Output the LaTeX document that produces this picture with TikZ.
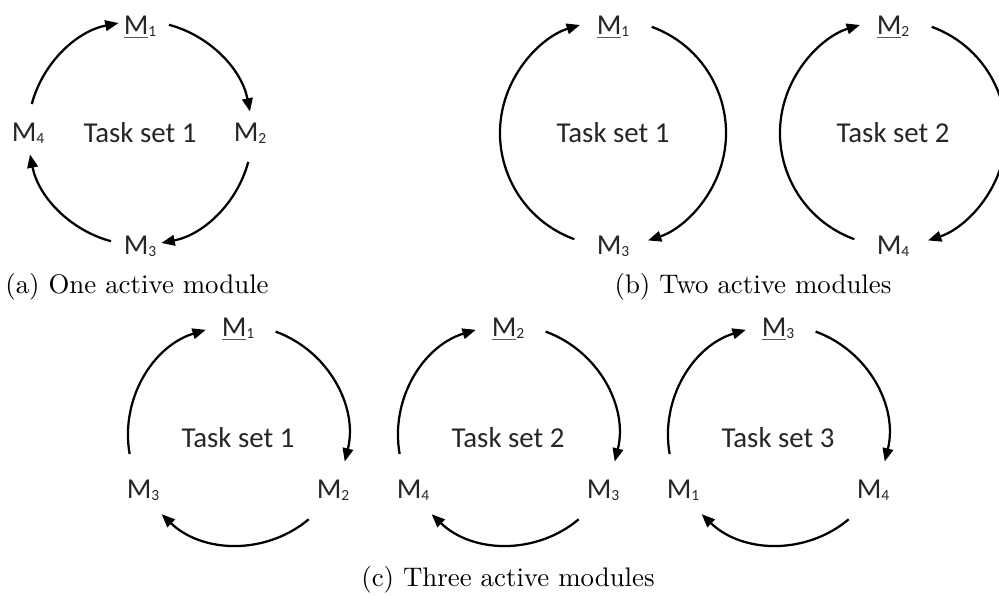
\documentclass[tikz,border=0pt]{standalone}
\usepackage{fontspec}
\newfontfamily\calib{Carlito}
\newfontfamily\capfont[Extension=.otf]{lmroman10-regular}
\usetikzlibrary{arrows.meta}
\definecolor{darktxt}{HTML}{262626}
\definecolor{ulgray}{HTML}{5A5A5A}
% module label: M with a small index
\newcommand{\modsub}[1]{\raisebox{-1.5pt}{\fontsize{11}{11}\selectfont #1}}
\newcommand{\modlab}[1]{M\modsub{#1}}
% active module: underlined M
\newcommand{\actlab}[1]{\leavevmode\setbox0\hbox{M}\rlap{\color{ulgray}\rule[-3pt]{\wd0}{1.1pt}}\box0\modsub{#1}}
\begin{document}
\begin{tikzpicture}[x=0.025cm,y=0.025cm,
  ring/.style={circle,draw=none,inner sep=0pt,outer sep=0pt},
  flow/.style={line width=1.6pt,draw=black,-{Triangle[length=9.5pt,width=7.5pt]}},
  mod/.style={font=\calib\fontsize{20.5}{24}\selectfont,text=darktxt,inner sep=0pt},
  task/.style={font=\calib\fontsize{20.5}{24}\selectfont,text=darktxt,inner sep=0pt},
  subcap/.style={font=\capfont\fontsize{19.1}{23}\selectfont,inner sep=0pt}]
\useasboundingbox (0,0) rectangle (999,595);

% ---- (a) one active module ----
\node[ring,minimum size=5.6cm] (RA) at (140,462) {};
\node[task] (TA) at (RA.center) {Task set 1};
\node[mod] (a1) at (140,568) {\actlab{1}};
\node[mod] (a2) at (250,462) {\modlab{2}};
\node[mod] (a3) at (140,349) {\modlab{3}};
\node[mod] (a4) at (28,462) {\modlab{4}};
\draw[flow] (RA.165) arc[start angle=165,end angle=101,radius=112];
\draw[flow] (RA.75) arc[start angle=75,end angle=11,radius=112];
\draw[flow] (RA.-15) arc[start angle=-15,end angle=-79,radius=112];
\draw[flow] (RA.-105) arc[start angle=-105,end angle=-169,radius=112];
\node[subcap] (capa) at (137,308) {(a)\ One active module};

% ---- (b) two active modules ----
\node[ring,minimum size=5.65cm] (RB1) at (613,462) {};
\node[task] (TB1) at (RB1.center) {Task set 1};
\node[mod] (b11) at (613,568) {\actlab{1}};
\node[mod] (b13) at (613,349) {\modlab{3}};
\draw[flow] (RB1.250) arc[start angle=250,end angle=107,radius=113];
\draw[flow] (RB1.70) arc[start angle=70,end angle=-72,radius=113];

\node[ring,minimum size=5.65cm] (RB2) at (893,462) {};
\node[task] (TB2) at (RB2.center) {Task set 2};
\node[mod] (b22) at (893,568) {\actlab{2}};
\node[mod] (b24) at (893,349) {\modlab{4}};
\draw[flow] (RB2.250) arc[start angle=250,end angle=107,radius=113];
\draw[flow] (RB2.70) arc[start angle=70,end angle=-72,radius=113];
\node[subcap] (capb) at (753,308) {(b)\ Two active modules};

% ---- (c) three active modules ----
\node[ring,minimum size=5.5cm] (RC1) at (238,160) {};
\node[task] (TC1) at (238,157) {Task set 1};
\node[mod] (c11) at (238,266) {\actlab{1}};
\node[mod] (c12) at (333,105) {\modlab{2}};
\node[mod] (c13) at (143,105) {\modlab{3}};
\draw[flow] (RC1.190) arc[start angle=190,end angle=107,radius=110];
\draw[flow] (RC1.70) arc[start angle=70,end angle=-14,radius=110];
\draw[flow] (RC1.-50) arc[start angle=-50,end angle=-134,radius=110];

\node[ring,minimum size=5.5cm] (RC2) at (508,160) {};
\node[task] (TC2) at (508,157) {Task set 2};
\node[mod] (c22) at (508,266) {\actlab{2}};
\node[mod] (c23) at (603,105) {\modlab{3}};
\node[mod] (c24) at (413,105) {\modlab{4}};
\draw[flow] (RC2.190) arc[start angle=190,end angle=107,radius=110];
\draw[flow] (RC2.70) arc[start angle=70,end angle=-14,radius=110];
\draw[flow] (RC2.-50) arc[start angle=-50,end angle=-134,radius=110];

\node[ring,minimum size=5.5cm] (RC3) at (778,160) {};
\node[task] (TC3) at (778,157) {Task set 3};
\node[mod] (c33) at (778,266) {\actlab{3}};
\node[mod] (c34) at (873,105) {\modlab{4}};
\node[mod] (c31) at (683,105) {\modlab{1}};
\draw[flow] (RC3.190) arc[start angle=190,end angle=107,radius=110];
\draw[flow] (RC3.70) arc[start angle=70,end angle=-14,radius=110];
\draw[flow] (RC3.-50) arc[start angle=-50,end angle=-134,radius=110];
\node[subcap] (capc) at (508,15) {(c)\ Three active modules};
\end{tikzpicture}
\end{document}
